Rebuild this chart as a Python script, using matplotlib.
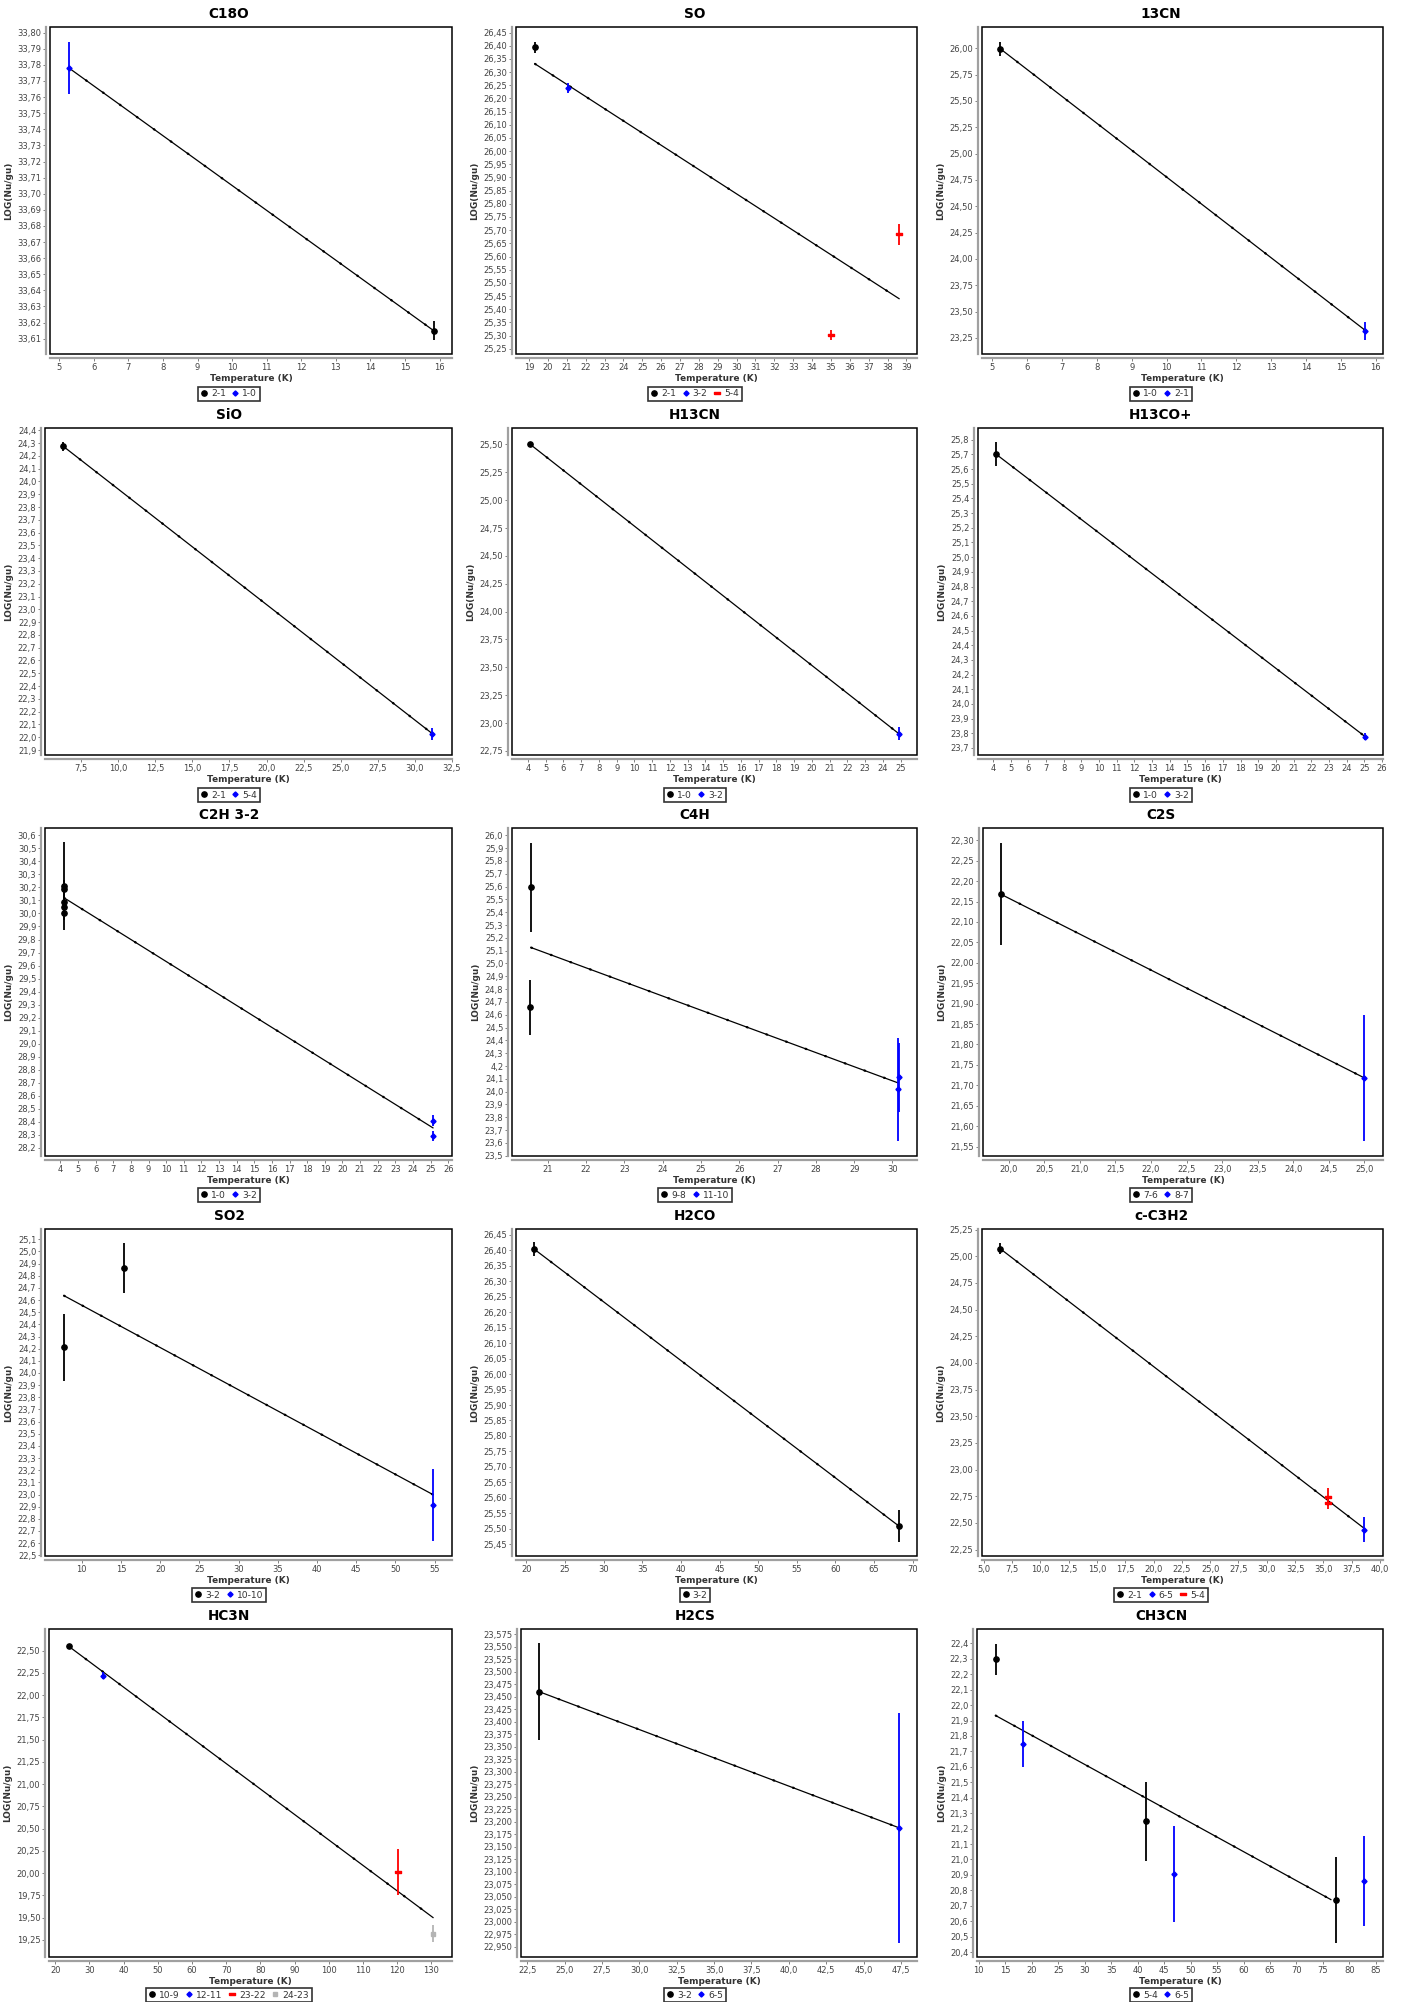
import numpy as np
import matplotlib.pyplot as plt
from matplotlib.lines import Line2D
from matplotlib.patches import Rectangle
from matplotlib.ticker import FixedLocator

W, H = 1407, 2002

# rotational diagrams: temperature (K), LOG(Nu/gu), error, transition index
c18o_lines = ["2-1", "1-0"]
c18o_t = [15.83, 5.28]
c18o_y = [33.615, 33.778]
c18o_err = [0.0058, 0.0163]
c18o_idx = [0, 1]
c18o_fit_t = [5.28, 15.83]
c18o_fit_y = [33.778, 33.615]

so_lines = ["2-1", "3-2", "5-4"]
so_t = [19.32, 21.05, 35.01, 38.61]
so_y = [26.394, 26.240, 25.303, 25.685]
so_err = [0.021, 0.020, 0.019, 0.040]
so_idx = [0, 1, 2, 2]
so_fit_t = [19.32, 38.61]
so_fit_y = [26.331, 25.440]

c13n_lines = ["1-0", "2-1"]
c13n_t = [5.23, 15.69]
c13n_y = [25.994, 23.319]
c13n_err = [0.066, 0.084]
c13n_idx = [0, 1]
c13n_fit_t = [5.23, 15.69]
c13n_fit_y = [25.994, 23.325]

sio_lines = ["2-1", "5-4"]
sio_t = [6.28, 31.17]
sio_y = [24.275, 22.023]
sio_err = [0.033, 0.048]
sio_idx = [0, 1]
sio_fit_t = [6.28, 31.17]
sio_fit_y = [24.275, 22.030]

h13cn_lines = ["1-0", "3-2"]
h13cn_t = [4.13, 24.89]
h13cn_y = [25.500, 22.906]
h13cn_err = [0.010, 0.058]
h13cn_idx = [0, 1]
h13cn_fit_t = [4.13, 24.89]
h13cn_fit_y = [25.500, 22.906]

h13cop_lines = ["1-0", "3-2"]
h13cop_t = [4.19, 25.02]
h13cop_y = [25.702, 23.777]
h13cop_err = [0.082, 0.025]
h13cop_idx = [0, 1]
h13cop_fit_t = [4.19, 25.02]
h13cop_fit_y = [25.700, 23.780]

c2h_lines = ["1-0", "3-2"]
c2h_t = [4.21, 4.21, 4.21, 4.21, 4.21, 25.13, 25.13]
c2h_y = [30.21, 30.19, 30.09, 30.05, 30.00, 28.41, 28.29]
c2h_err = [0.335, 0.07, 0.05, 0.05, 0.05, 0.041, 0.040]
c2h_idx = [0, 0, 0, 0, 0, 1, 1]
c2h_fit_t = [4.21, 25.13]
c2h_fit_y = [30.12, 28.354]

c4h_lines = ["9-8", "11-10"]
c4h_t = [20.57, 20.55, 30.16, 30.14]
c4h_y = [25.593, 24.658, 24.113, 24.017]
c4h_err = [0.350, 0.215, 0.270, 0.400]
c4h_idx = [0, 0, 1, 1]
c4h_fit_t = [20.57, 30.14]
c4h_fit_y = [25.124, 24.069]

c2s_lines = ["7-6", "8-7"]
c2s_t = [19.89, 25.00]
c2s_y = [22.168, 21.718]
c2s_err = [0.125, 0.155]
c2s_idx = [0, 1]
c2s_fit_t = [19.89, 25.00]
c2s_fit_y = [22.168, 21.718]

so2_lines = ["3-2", "10-10"]
so2_t = [7.75, 15.36, 54.79]
so2_y = [24.213, 24.864, 22.914]
so2_err = [0.276, 0.205, 0.300]
so2_idx = [0, 0, 1]
so2_fit_t = [7.75, 54.79]
so2_fit_y = [24.636, 22.999]

h2co_lines = ["3-2"]
h2co_t = [21.02, 68.20]
h2co_y = [26.404, 25.509]
h2co_err = [0.023, 0.051]
h2co_idx = [0, 0]
h2co_fit_t = [21.02, 68.20]
h2co_fit_y = [26.404, 25.509]

cc3h2_lines = ["2-1", "6-5", "5-4"]
cc3h2_t = [6.44, 38.56, 35.37, 35.37]
cc3h2_y = [25.072, 22.437, 22.743, 22.687]
cc3h2_err = [0.053, 0.114, 0.084, 0.060]
cc3h2_idx = [0, 1, 2, 2]
cc3h2_fit_t = [6.44, 38.56]
cc3h2_fit_y = [25.072, 22.453]

hc3n_lines = ["10-9", "12-11", "23-22", "24-23"]
hc3n_t = [23.95, 33.95, 120.26, 130.5]
hc3n_y = [22.549, 22.219, 20.016, 19.322]
hc3n_err = [0.030, 0.040, 0.260, 0.100]
hc3n_idx = [0, 1, 2, 3]
hc3n_fit_t = [23.95, 130.5]
hc3n_fit_y = [22.549, 19.502]

h2cs_lines = ["3-2", "6-5"]
h2cs_t = [23.28, 47.38]
h2cs_y = [23.460, 23.188]
h2cs_err = [0.097, 0.230]
h2cs_idx = [0, 1]
h2cs_fit_t = [23.28, 47.38]
h2cs_fit_y = [23.460, 23.188]

ch3cn_lines = ["5-4", "6-5"]
ch3cn_t = [13.2, 41.66, 77.38, 18.3, 46.9, 82.8]
ch3cn_y = [22.298, 21.246, 20.736, 21.746, 20.904, 20.861]
ch3cn_err = [0.100, 0.254, 0.277, 0.150, 0.310, 0.290]
ch3cn_idx = [0, 0, 0, 1, 1, 1]
ch3cn_fit_t = [13.2, 76.5]
ch3cn_fit_y = [21.932, 20.740]

# C4H axis carries a mislabelled tick
c4h_ylabel_fix = {24.2: "4,2"}

# --- layout: pixel boxes (left, top, right, bottom), limits, tick steps ---
row_top = [27, 428, 828, 1229, 1629]
row_bot = [354, 755, 1156, 1556, 1957]
title_y = [14, 415, 815, 1216, 1616]
legend_y = [394, 795, 1195, 1595, 1995]
col_center = [229, 695, 1161]
col_left = [[50, 516, 982], [45, 512, 978], [45, 512, 983], [45, 516, 982], [49, 521, 977]]
col_right = [452, 917, 1383]

panels = [
    ("C18O", c18o_lines, c18o_t, c18o_y, c18o_err, c18o_idx, c18o_fit_t, c18o_fit_y,
     (4.73, 16.36), (33.6005, 33.8035), (1, 0), (0.01, 2), {}),
    ("SO", so_lines, so_t, so_y, so_err, so_idx, so_fit_t, so_fit_y,
     (18.31, 39.56), (25.230, 26.471), (1, 0), (0.05, 2), {}),
    ("13CN", c13n_lines, c13n_t, c13n_y, c13n_err, c13n_idx, c13n_fit_t, c13n_fit_y,
     (4.70, 16.21), (23.098, 26.202), (1, 0), (0.25, 2), {}),
    ("SiO", sio_lines, sio_t, sio_y, sio_err, sio_idx, sio_fit_t, sio_fit_y,
     (5.05, 32.52), (21.861, 24.418), (2.5, 1), (0.1, 1), {}),
    ("H13CN", h13cn_lines, h13cn_t, h13cn_y, h13cn_err, h13cn_idx, h13cn_fit_t, h13cn_fit_y,
     (3.10, 25.92), (22.714, 25.647), (1, 0), (0.25, 2), {}),
    ("H13CO+", h13cop_lines, h13cop_t, h13cop_y, h13cop_err, h13cop_idx, h13cop_fit_t, h13cop_fit_y,
     (3.15, 26.06), (23.652, 25.880), (1, 0), (0.1, 1), {}),
    ("C2H 3-2", c2h_lines, c2h_t, c2h_y, c2h_err, c2h_idx, c2h_fit_t, c2h_fit_y,
     (3.13, 26.21), (28.138, 30.656), (1, 0), (0.1, 1), {}),
    ("C4H", c4h_lines, c4h_t, c4h_y, c4h_err, c4h_idx, c4h_fit_t, c4h_fit_y,
     (20.07, 30.64), (23.498, 26.057), (1, 0), (0.1, 1), c4h_ylabel_fix),
    ("C2S", c2s_lines, c2s_t, c2s_y, c2s_err, c2s_idx, c2s_fit_t, c2s_fit_y,
     (19.64, 25.26), (21.527, 22.330), (0.5, 1), (0.05, 2), {}),
    ("SO2", so2_lines, so2_t, so2_y, so2_err, so2_idx, so2_fit_t, so2_fit_y,
     (5.32, 57.21), (22.494, 25.185), (5, 0), (0.1, 1), {}),
    ("H2CO", h2co_lines, h2co_t, h2co_y, h2co_err, h2co_idx, h2co_fit_t, h2co_fit_y,
     (18.67, 70.55), (25.412, 26.469), (5, 0), (0.05, 2), {}),
    ("c-C3H2", cc3h2_lines, cc3h2_t, cc3h2_y, cc3h2_err, cc3h2_idx, cc3h2_fit_t, cc3h2_fit_y,
     (4.84, 40.27), (22.19, 25.256), (2.5, 1), (0.25, 2), {}),
    ("HC3N", hc3n_lines, hc3n_t, hc3n_y, hc3n_err, hc3n_idx, hc3n_fit_t, hc3n_fit_y,
     (18.16, 136.05), (19.059, 22.744), (10, 0), (0.25, 2), {}),
    ("H2CS", h2cs_lines, h2cs_t, h2cs_y, h2cs_err, h2cs_idx, h2cs_fit_t, h2cs_fit_y,
     (22.08, 48.58), (22.930, 23.585), (2.5, 1), (0.025, 3), {}),
    ("CH3CN", ch3cn_lines, ch3cn_t, ch3cn_y, ch3cn_err, ch3cn_idx, ch3cn_fit_t, ch3cn_fit_y,
     (9.66, 86.35), (20.368, 22.493), (5, 0), (0.1, 1), {}),
]

# JFreeChart-like series styles
rect = [(-1, -0.5), (1, -0.5), (1, 0.5), (-1, 0.5), (-1, -0.5)]
series_style = [
    dict(marker="o", color="#000000", ms=3.8),
    dict(marker="D", color="#0000ff", ms=2.6),
    dict(marker=rect, color="#ff0000", ms=4.0),
    dict(marker="s", color="#b4b4b4", ms=3.2),
]

plt.rcParams["font.family"] = ["DejaVu Sans"]
fig = plt.figure(figsize=(W / 100, H / 100), dpi=100)


def ticks_in(lo, hi, step):
    start = np.ceil(lo / step - 1e-6) * step
    vals = np.arange(start, hi + step * 1e-6, step)
    return [round(v, 6) for v in vals if lo <= v <= hi]


def comma_fmt(v, dec):
    return f"{v:.{dec}f}".replace(".", ",")


for n, (name, lines, t, y, err, idx, fit_t, fit_y, xlim, ylim, xt, yt, fix) in enumerate(panels):
    row, col = divmod(n, 3)
    l, r = col_left[row][col], col_right[col]
    top, bot = row_top[row], row_bot[row]
    ax = fig.add_axes([l / W, 1 - bot / H, (r - l) / W, (bot - top) / H])
    ax.set_xlim(*xlim)
    ax.set_ylim(*ylim)

    # offset grey axes plus a black plot outline
    for s in ["top", "right"]:
        ax.spines[s].set_visible(False)
    for s in ["left", "bottom"]:
        ax.spines[s].set_position(("outward", 3))
        ax.spines[s].set_color("#a0a0a0")
        ax.spines[s].set_linewidth(1.6)
    ax.add_patch(Rectangle((0, 0), 1, 1, transform=ax.transAxes, fill=False,
                           ec="black", lw=1.1, clip_on=False, zorder=6))

    xs = ticks_in(*xlim, xt[0])
    ys = ticks_in(*ylim, yt[0])
    ax.xaxis.set_major_locator(FixedLocator(xs))
    ax.yaxis.set_major_locator(FixedLocator(ys))
    ax.set_xticklabels([comma_fmt(v, xt[1]) for v in xs])
    ax.set_yticklabels([fix.get(round(v, 3), comma_fmt(v, yt[1])) for v in ys])
    ax.tick_params(direction="out", length=2, width=0.7, color="#808080",
                   labelsize=6, labelcolor="#444444", pad=1.2)

    ax.set_xlabel("Temperature (K)", fontsize=6.4, fontweight="bold", color="#333333", labelpad=2)
    ax.set_ylabel("LOG(Nu/gu)", fontsize=6.4, fontweight="bold", color="#333333", labelpad=3)

    # fitted line with its small point markers
    ax.plot(fit_t, fit_y, color="black", lw=0.9, zorder=2)
    ax.plot(fit_t, fit_y, color="black", lw=1.6, ls=(0, (0.4, 9)),
            dash_capstyle="round", zorder=2)

    handles = []
    for k, label in enumerate(lines):
        st = series_style[k]
        sel = [i for i, g in enumerate(idx) if g == k]
        ax.errorbar([t[i] for i in sel], [y[i] for i in sel], yerr=[err[i] for i in sel],
                    fmt="none", ecolor=st["color"], elinewidth=1.3, capsize=0, zorder=3)
        ax.plot([t[i] for i in sel], [y[i] for i in sel], ls="none", marker=st["marker"],
                ms=st["ms"], color=st["color"], mec=st["color"], zorder=4)
        handles.append(Line2D([], [], ls="none", marker=st["marker"], ms=st["ms"],
                              color=st["color"], label=label))

    fig.text(col_center[col] / W, 1 - title_y[row] / H, name, ha="center", va="center",
             fontsize=9.8, fontweight="bold")
    leg = ax.legend(handles=handles, loc="center", ncol=len(handles),
                    bbox_to_anchor=(col_center[col] / W, 1 - legend_y[row] / H),
                    bbox_transform=fig.transFigure, fontsize=6.6, frameon=True,
                    fancybox=False, handlelength=0.7, handletextpad=0.4,
                    columnspacing=0.7, borderpad=0.3, borderaxespad=0)
    leg.get_frame().set_edgecolor("black")
    leg.get_frame().set_linewidth(1.2)
    for txt in leg.get_texts():
        txt.set_color("#333333")

fig.savefig("out.png", dpi=100, facecolor="white")
